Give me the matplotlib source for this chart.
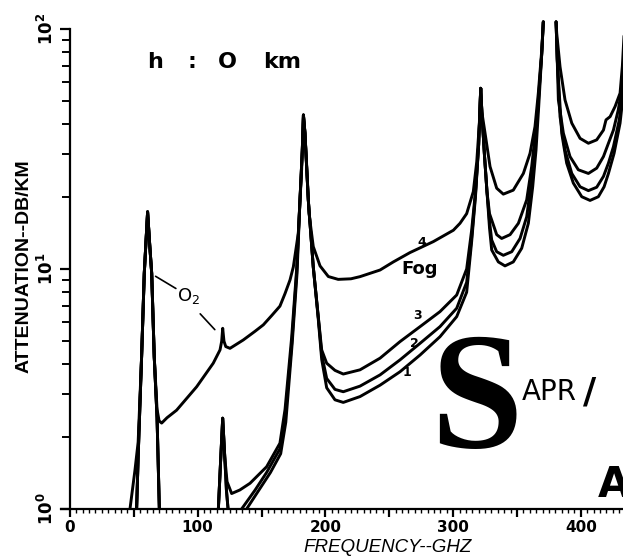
import numpy as np
import matplotlib
matplotlib.use('Agg')
import matplotlib.pyplot as plt
from matplotlib.ticker import FixedLocator, NullFormatter

nan = np.nan

# frequency (GHz) / attenuation (dB/km), nan = curve leaves the plot
freq_4 = [47, 50.9, 53.4, 56.1, 58.2, 60.8, 62.5, 64, 66, 68.2, 69.8, 71.8, 76, 83.5, 99.2, 112.2,
          117.5, 118.8, 119.6, 120.6, 122, 125.3, 135.7, 144.9, 151.4, 158, 164.4, 168.4, 172.3,
          174.9, 178.8, 181.4, 182.8, 184, 185.5, 187.2, 190.5, 195.8, 202.3, 210, 220, 227.1,
          242.8, 253.2, 266.2, 284.5, 300.2, 305.4, 310.6, 315.8, 318.5, 320.5, 321.6, 322.5, 325,
          328.9, 334.1, 339.3, 347.1, 355, 360.2, 364.1, 366.7, 369.4, 370.6, nan,
          380.6, 381.1, 383.7, 387.6, 392.9, 399.4, 405.9, 412.4, 417.7, 419.7, 422.9, 426.8,
          430.7, 432.5, 434.5]
att_4 = [1.0, 1.45, 1.9, 4.3, 9.6, 17.3, 12.5, 9.6, 4.3, 2.6, 2.33, 2.28, 2.4, 2.58, 3.23, 4.05,
         4.6, 5.0, 5.66, 5.0, 4.75, 4.67, 5.06, 5.5, 5.85, 6.4, 7.0, 7.9, 9.0,
         10.2, 14.1, 26, 43.8, 36.8, 26, 17, 12.4, 10.3, 9.3, 9.05, 9.1, 9.29,
         9.9, 10.7, 11.7, 13.0, 14.5, 15.5, 17, 21, 28, 40, 56.6, 45, 36.8,
         26.7, 21.7, 20.5, 21.3, 25, 30.3, 39.2, 54, 81.7, 107, nan,
         107, 96, 69.6, 50.6, 40.5, 35, 33.4, 34.5, 37.9, 41.8, 43.1, 47.5,
         54, 70, 110]

freq_3 = [52.2, 53.4, 56.1, 58.2, 60.8, 62.5, 64, 66, 68.2, 70, nan,
          116.2, 118, 119.6, 121.2, 123, 126.6, 133, 141, 154, 164.4, 168.4, 173.6, 177.5, 180.1,
          181.9, 182.8, 184, 186.6, 190.5, 194.4, 197.1, 201, 207.5, 214, 227.1, 242.8, 258.4,
          274.1, 289.7, 302.8, 310.6, 314.5, 317.5, 320, 321.6, 322.5, 324.5, 326.5, 328.5, 330.2,
          334.1, 338, 344.6, 351.1, 357.6, 361.5, 364.1, 366.7, 369.4, 370.6, nan,
          380.6, 381.5, 382.4, 386.3, 391.5, 398, 405.9, 412.4, 417.7, 421.6, 425.5, 429.3,
          432.8, 434.5]
att_3 = [1.0, 1.65, 4.3, 9.6, 17.3, 12.5, 9.6, 4.3, 2.4, 1.0, nan,
         1.0, 1.6, 2.39, 1.65, 1.3, 1.16, 1.2, 1.28, 1.5, 1.88, 2.6, 5.2, 10, 19.4,
         31, 43.8, 36.8, 19.4, 10.2, 6.33, 4.6, 4.05, 3.78, 3.65, 3.8, 4.25, 4.98,
         5.75, 6.64, 7.79, 10.0, 14.5, 21, 33, 56.6, 45, 30, 21, 17, 16,
         13.9, 13.4, 13.9, 15.5, 19.4, 26.7, 35.6, 50.6, 79.2, 107, nan,
         107, 75, 50.6, 36.8, 29.4, 25.9, 25, 26.3, 29.4, 33.4, 37.9, 46,
         59.4, 110]

freq_2 = [52.2, 53.4, 56.1, 58.2, 60.8, 62.5, 64, 66, 68.2, 70, nan,
          116.2, 118, 119.6, 121.2, 122.5, 123.8, nan,
          134.4, 145, 154, 164.4, 168.6, 173.8, 177.6, 180.1, 181.9, 182.8, 184, 186.6, 190.5,
          194.4, 197.1, 201, 207.5, 214, 227.1, 242.8, 258.4, 274.1, 289.7, 302.8, 310.6, 314.5,
          317.5, 320, 321.6, 322.5, 324.5, 326.5, 328.5, 330.2, 334.1, 339.3, 345.9, 352.4,
          357.6, 361.5, 364.1, 366.7, 369.4, 370.6, nan,
          380.6, 381.5, 383.7, 387.6, 392.9, 399.4, 405.9, 412.4, 417.7, 421.6, 425.5, 430.1,
          433.3, 434.5]
att_2 = [1.0, 1.65, 4.3, 9.6, 17.3, 12.5, 9.6, 4.3, 2.4, 1.0, nan,
         1.0, 1.6, 2.39, 1.65, 1.2, 1.0, nan,
         1.0, 1.2, 1.42, 1.78, 2.45, 5.0, 9.8, 19.4, 31, 43.8, 36.8, 19.4, 10.2,
         6.33, 4.4, 3.5, 3.15, 3.08, 3.25, 3.62, 4.18, 4.9, 5.75, 6.86, 8.8, 13.5,
         20.5, 33, 56.6, 45, 30, 21, 15.8, 13.2, 11.8, 11.4, 11.8, 13.4,
         16.5, 23.5, 32.3, 49, 79.2, 107, nan,
         107, 75, 43.1, 31.3, 25, 22, 21.2, 21.9, 24.3, 27.6, 32.3, 41.8,
         57.5, 110]

freq_1 = [52.2, 53.4, 56.1, 58.2, 60.8, 62.5, 64, 66, 68.2, 70, nan,
          116.2, 118, 119.6, 121.2, 122.5, 123.8, nan,
          138.3, 148, 157, 165, 169, 174, 177.8, 180.1, 181.9, 182.8, 184, 186.6, 190.5,
          194.4, 197.1, 201, 207.5, 214, 227.1, 242.8, 258.4, 274.1, 289.7, 302.8, 310.6, 314.5,
          317.5, 320, 321.6, 322.5, 324.5, 326.5, 328.5, 330.2, 335.4, 340.6, 347.1, 353.7,
          358.9, 362.3, 364.9, 367, 369.4, 370.6, nan,
          380.6, 381.5, 385, 388.9, 394.1, 400.7, 407.2, 413.7, 418.2, 421.6, 426, 430.7,
          433.3, 434.5]
att_1 = [1.0, 1.65, 4.3, 9.6, 17.3, 12.5, 9.6, 4.3, 2.4, 1.0, nan,
         1.0, 1.6, 2.39, 1.65, 1.2, 1.0, nan,
         1.0, 1.2, 1.42, 1.7, 2.3, 4.9, 9.6, 19.4, 31, 43.8, 36.8, 19.4, 10.2,
         6.2, 4.2, 3.2, 2.85, 2.78, 2.94, 3.28, 3.73, 4.38, 5.22, 6.33, 8.0, 13,
         20, 33, 56.6, 45, 30, 21, 14.8, 12.0, 10.7, 10.3, 10.7, 12.2,
         15.5, 22, 31.3, 47.5, 79.2, 107, nan,
         107, 75, 36.8, 27.6, 22.8, 20, 19.3, 20, 22, 25, 30.3, 40.5,
         54, 110]

curve_ids = ['1', '2', '3', '4']
x_ticks = [0, 50, 100, 150, 200, 250, 300, 350, 400]
x_ticklabels = ['0', '', '100', '', '200', '', '300', '', '400']
y_ticks = [1, 10, 100]
y_ticklabels = [r'$\mathbf{10^{0}}$', r'$\mathbf{10^{1}}$', r'$\mathbf{10^{2}}$']

plt.rcParams['mathtext.default'] = 'regular'
narrow = ['Liberation Sans Narrow', 'DejaVu Sans']

W, H = 623, 560
fig = plt.figure(figsize=(W / 100, H / 100), dpi=100)
ax = fig.add_axes([61 / W, 51 / H, 562 / W, 490 / H])
ax.set_yscale('log')
ax.set_xlim(-7, 433)
ax.set_ylim(1, 110)

for fx, fy in [(freq_1, att_1), (freq_2, att_2), (freq_3, att_3), (freq_4, att_4)]:
    ax.plot(fx, fy, color='black', lw=2.1, solid_joinstyle='round', solid_capstyle='round')

for s in ['top', 'right']:
    ax.spines[s].set_visible(False)
ax.spines['left'].set_position(('data', 0))
ax.spines['left'].set_bounds(1, 100)
ax.spines['left'].set_linewidth(1.6)
ax.spines['bottom'].set_linewidth(1.6)

ax.xaxis.set_major_locator(FixedLocator(x_ticks))
ax.xaxis.set_minor_locator(FixedLocator(np.arange(0, 435, 5)))
ax.set_xticklabels(x_ticklabels, fontweight='bold', fontsize=11, family=narrow)
ax.tick_params(axis='x', which='major', direction='out', length=6, width=1.6, pad=2)
ax.tick_params(axis='x', which='minor', direction='out', length=3, width=1.0)

ax.set_yticks(y_ticks)
ax.yaxis.set_minor_formatter(NullFormatter())
ax.set_yticklabels(y_ticklabels, rotation=90, fontsize=12, va='center')
ax.tick_params(axis='y', which='major', direction='out', length=7, width=1.6, pad=2)
ax.tick_params(axis='y', which='minor', direction='out', length=6, width=1.4)

# curve labels
ax.text(275.6, 12.95, curve_ids[3], fontsize=9, fontweight='bold', ha='center', va='center')
ax.text(272.5, 6.43, curve_ids[2], fontsize=9, fontweight='bold', ha='center', va='center')
ax.text(269.4, 4.87, curve_ids[1], fontsize=9, fontweight='bold', ha='center', va='center')
ax.text(263.9, 3.69, curve_ids[0], fontsize=9, fontweight='bold', ha='center', va='center')
ax.text(259.5, 10.0, 'Fog', fontsize=13, fontweight='bold', ha='left', va='center')

ax.text(93.2, 7.7, 'O$_2$', fontsize=13, ha='center', va='center')
ax.annotate('', xy=(65.2, 9.45), xytext=(84.8, 8.18),
            arrowprops=dict(arrowstyle='-', lw=1.2, color='black'))
ax.annotate('', xy=(114.9, 5.48), xytext=(100.5, 6.63),
            arrowprops=dict(arrowstyle='-', lw=1.2, color='black'))

# titles / axis labels
for s, px in [('h', 147), (':', 188), ('O', 218), ('km', 263)]:
    fig.text(px / W, 1 - 68 / H, s, fontsize=16, fontweight='bold', ha='left', va='baseline')
fig.text(24 / W, 1 - 266 / H, 'ATTENUATION--DB/KM', rotation=90, fontsize=14,
         fontweight='bold', family=['Liberation Sans', 'DejaVu Sans'], ha='center', va='center')
fig.text(388 / W, 1 - 548 / H, 'FREQUENCY--GHZ', fontsize=13.5, style='italic',
         family=['Liberation Sans', 'DejaVu Sans'], ha='center', va='center')

# stamp on the scan
fig.text(476 / W, 1 - 447 / H, 'S', fontsize=120, fontweight='bold',
         family=['Liberation Serif', 'DejaVu Serif'], ha='center', va='baseline')
fig.text(522 / W, 1 - 400 / H, 'APR', fontsize=20, family=narrow, ha='left', va='baseline')
fig.text(590 / W, 1 - 392 / H, '/', fontsize=26, fontweight='bold', ha='center', va='center')
fig.text(598 / W, 1 - 497 / H, 'A', fontsize=30, fontweight='bold', ha='left', va='baseline')

fig.savefig('out.png', dpi=100)
